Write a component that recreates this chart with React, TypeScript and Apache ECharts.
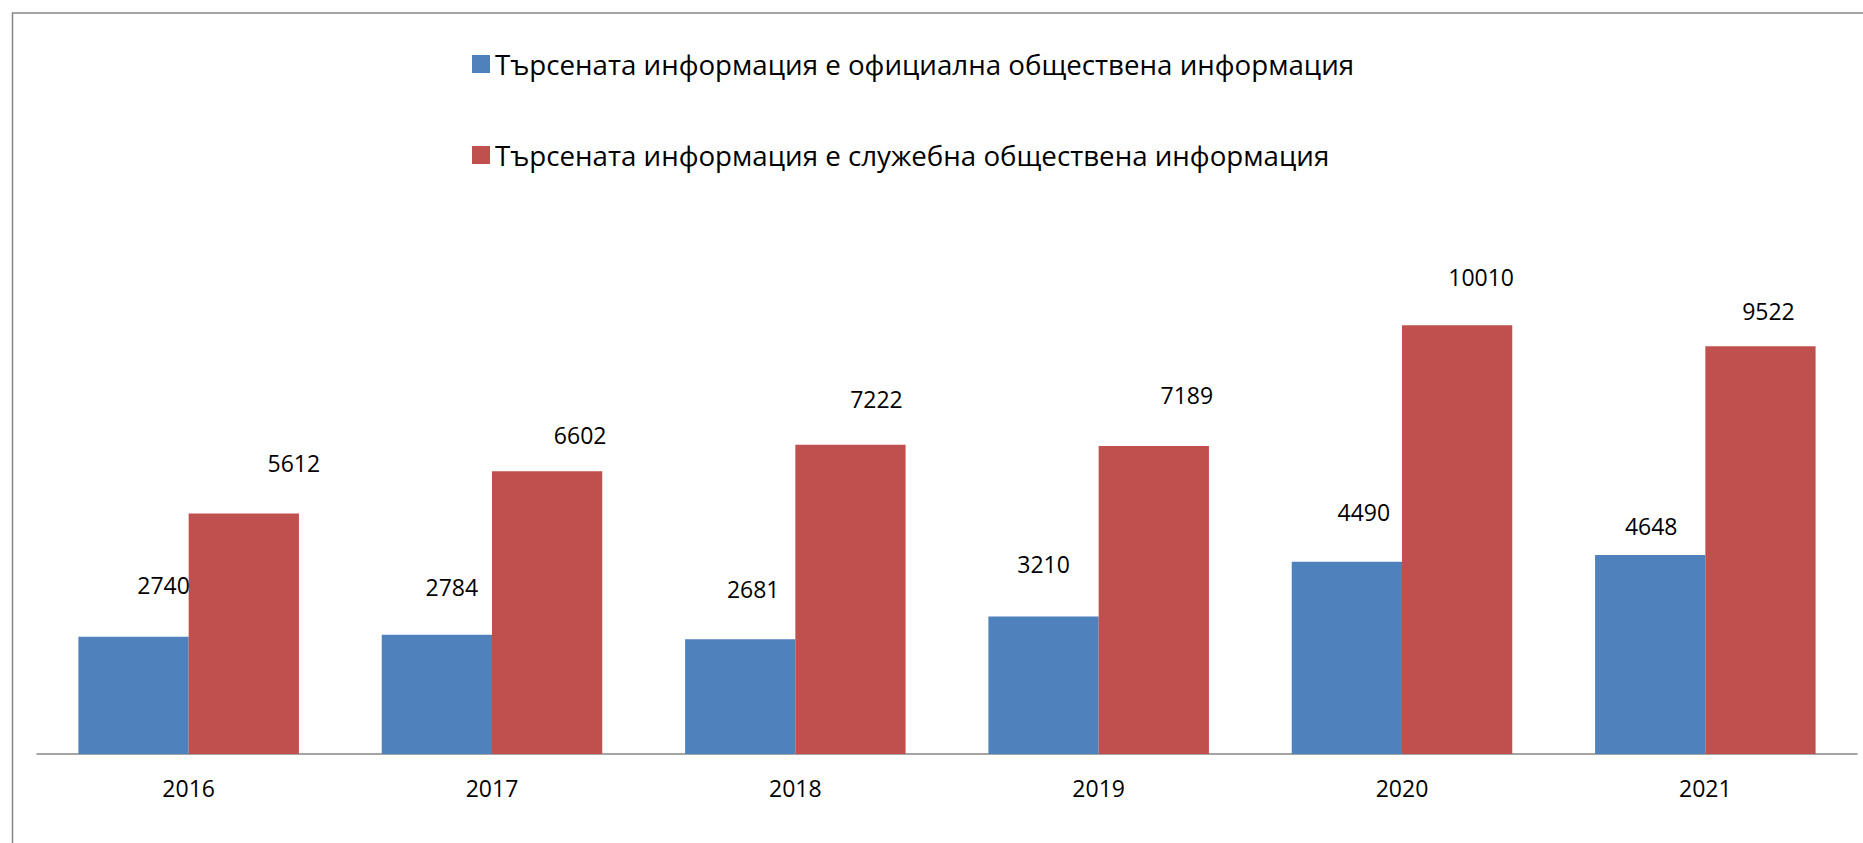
import React, { useEffect, useRef } from "react";
import * as echarts from "echarts";

const categories = ["2016", "2017", "2018", "2019", "2020", "2021"];
const seriesNames = [
  "Търсената информация е официална обществена информация",
  "Търсената информация е служебна обществена информация",
];
const officialValues = [2740, 2784, 2681, 3210, 4490, 4648];
const serviceValues = [5612, 6602, 7222, 7189, 10010, 9522];

// manual label nudges (pixels) relative to the bar top centre, as in the original
const officialLabelDx = [30, 15, 13, 0, 17, 1];
const officialLabelDy = [-52, -48, -50, -53, -50, -29];
const serviceLabelDx = [50, 33, 26, 33, 24, 8];
const serviceLabelDy = [-51, -36, -46, -51, -48, -35];

const FONT = "'Open Sans', 'Noto Sans', sans-serif";
const LABEL_SIZE = 23;
const LABEL_LH = 23;

function buildData(values: number[], dx: number[], dy: number[]) {
  return values.map((v, i) => ({
    value: v,
    label: {
      offset: [dx[i], dy[i] + LABEL_LH / 2],
    },
  }));
}

export default function App() {
  const ref = useRef<HTMLDivElement>(null);
  useEffect(() => {
    if (!ref.current) return;
    const chart = echarts.init(ref.current, null, { renderer: "svg" });
    const labelBase = {
      show: true,
      position: "top",
      distance: 0,
      color: "#000",
      fontFamily: FONT,
      fontSize: LABEL_SIZE,
      lineHeight: LABEL_LH,
    };
    chart.setOption({
      animation: false,
      backgroundColor: "#ffffff",
      textStyle: { fontFamily: FONT },
      graphic: [
        {
          type: "rect",
          shape: { x: 12.5, y: 13, width: 1870, height: 850 },
          style: { fill: "none", stroke: "#868686", lineWidth: 1.5 },
          silent: true,
          z: -10,
        },
      ],
      legend: {
        orient: "vertical",
        left: 472,
        top: 48,
        padding: 0,
        itemWidth: 18,
        itemHeight: 18,
        itemGap: 59,
        icon: "rect",
        data: seriesNames,
        textStyle: {
          color: "#000",
          fontFamily: FONT,
          fontSize: 27.7,
          lineHeight: 32,
        },
      },
      grid: { left: 37, right: 6, top: 240, bottom: 89, containLabel: false },
      xAxis: {
        type: "category",
        data: categories,
        axisLine: { lineStyle: { color: "#868686", width: 1.5 } },
        axisTick: { show: false },
        axisLabel: {
          color: "#000",
          fontFamily: FONT,
          fontSize: LABEL_SIZE,
          lineHeight: LABEL_LH,
          margin: 22,
        },
      },
      yAxis: {
        type: "value",
        min: 0,
        max: 12000,
        show: false,
        splitLine: { show: false },
      },
      series: [
        {
          name: seriesNames[0],
          type: "bar",
          barGap: "0%",
          barCategoryGap: "27.3%",
          itemStyle: { color: "#4F81BD" },
          label: labelBase,
          data: buildData(officialValues, officialLabelDx, officialLabelDy),
        },
        {
          name: seriesNames[1],
          type: "bar",
          barGap: "0%",
          barCategoryGap: "27.3%",
          itemStyle: { color: "#C0504D" },
          label: labelBase,
          data: buildData(serviceValues, serviceLabelDx, serviceLabelDy),
        },
      ],
    });
    return () => chart.dispose();
  }, []);
  return (
    <div
      ref={ref}
      style={{ position: "fixed", left: 0, top: 0, width: 1863, height: 843 }}
    />
  );
}
